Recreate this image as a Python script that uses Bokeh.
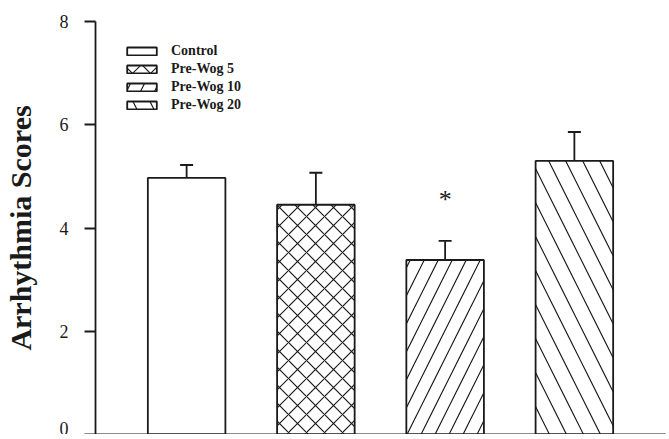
from bokeh.plotting import figure
from bokeh.models import (ColumnDataSource, FactorRange, Whisker, TeeHead, Legend,
                          LegendItem, FixedTicker)
from bokeh.core.properties import value
from bokeh.embed import file_html
from bokeh.resources import INLINE

categories = ["Control", "Pre-Wog 5", "Pre-Wog 10", "Pre-Wog 20"]
scores = [4.97, 4.45, 3.38, 5.30]
errors = [0.25, 0.62, 0.37, 0.56]
hatches = [" ", "x", "/", "\\"]
hatch_scales = [12, 18, 28, 34]
y_ticks = [0, 2, 4, 6, 8]
star_cat = "Pre-Wog 10"
star_y = 4.55

upper = [s + e for s, e in zip(scores, errors)]
src = ColumnDataSource(dict(cat=categories, score=scores, upper=upper,
                            hatch=hatches, hscale=hatch_scales))

FONT = "Liberation Serif"
INK = "#1a1a1a"

p = figure(width=669, height=434, output_backend="svg", toolbar_location=None,
           x_range=FactorRange(factors=categories, range_padding=0.205,
                               range_padding_units="absolute"),
           y_range=(0, 8), min_border_left=90, min_border_top=21,
           min_border_right=4, min_border_bottom=0)
p.outline_line_color = None
p.grid.visible = False
p.background_fill_color = "white"

bars = p.vbar(x="cat", top="score", width=0.60, source=src, fill_color="white",
              line_color=INK, line_width=1.8, hatch_pattern="hatch",
              hatch_scale="hscale", hatch_color=INK, hatch_weight=1.2)

w = Whisker(base="cat", upper="upper", lower="score", source=src,
            line_color=INK, line_width=1.8, dimension="height",
            upper_head=TeeHead(size=13, line_color=INK, line_width=1.8),
            lower_head=None)
p.add_layout(w)

p.text(x=[star_cat], y=[star_y], text=["*"], text_font=value(FONT),
       text_font_size="26px", text_align="center", text_baseline="middle",
       text_color=INK)

# axes
p.xaxis.ticker = FixedTicker(ticks=[])
p.xaxis.major_label_standoff = 0
p.xaxis.major_tick_line_color = None
p.xaxis.major_tick_out = 0
p.xaxis.major_tick_in = 0
p.xaxis.minor_tick_line_color = None
p.xaxis.axis_line_color = INK
p.xaxis.axis_line_width = 1.8

p.yaxis.ticker = y_ticks
p.yaxis.minor_tick_line_color = None
p.yaxis.major_tick_in = 0
p.yaxis.major_tick_out = 11
p.yaxis.major_tick_line_width = 1.8
p.yaxis.major_tick_line_color = INK
p.yaxis.axis_line_color = INK
p.yaxis.axis_line_width = 1.8
p.yaxis.major_label_text_font = FONT
p.yaxis.major_label_text_font_size = "18px"
p.yaxis.major_label_text_color = INK
p.yaxis.major_label_standoff = 16
p.yaxis.axis_label = "Arrhythmia Scores"
p.yaxis.axis_label_text_font = FONT
p.yaxis.axis_label_text_font_style = "bold"
p.yaxis.axis_label_text_font_size = "30px"
p.yaxis.axis_label_text_color = INK
p.yaxis.axis_label_standoff = 20

items = [LegendItem(label=c, renderers=[bars], index=i) for i, c in enumerate(categories)]
legend = Legend(items=items, location=(28, 321), padding=0, margin=0,
                border_line_color=None, background_fill_alpha=0,
                glyph_width=37, glyph_height=10, label_height=17,
                label_standoff=11, spacing=1,
                label_text_font=FONT, label_text_font_style="bold",
                label_text_font_size="14px", label_text_color=INK)
p.add_layout(legend)

open("out.html", "w").write(file_html(p, INLINE))
